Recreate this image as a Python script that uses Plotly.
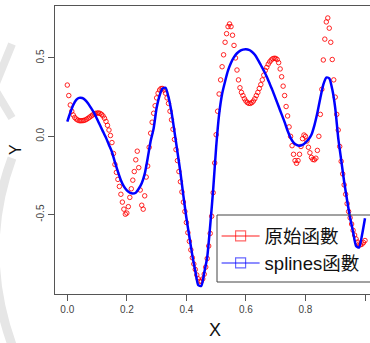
import plotly.graph_objects as go

# Original function (red circles), read at x step 0.005
x_orig = [round(i * 0.005, 3) for i in range(201)]
y_orig = [
    0.327, 0.26, 0.20, 0.16, 0.136, 0.12, 0.11, 0.104, 0.10, 0.099,
    0.100, 0.101, 0.104, 0.109, 0.115, 0.122, 0.129, 0.136, 0.142, 0.146,
    0.148, 0.149, 0.146, 0.140, 0.130, 0.115, 0.095, 0.070, 0.040, 0.005,
    -0.04, -0.11, -0.18, -0.23, -0.275, -0.32, -0.37, -0.42, -0.465, -0.497,
    -0.49, -0.449, -0.39, -0.335, -0.28, -0.225, -0.15, -0.095, -0.20, -0.343,
    -0.44, -0.465, -0.38, -0.26, -0.19, -0.07, 0.02, 0.09, 0.147, 0.195,
    0.245, 0.275, 0.295, 0.305, 0.305, 0.295, 0.275, 0.245, 0.21, 0.16,
    0.105, 0.045, -0.02, -0.085, -0.155, -0.225, -0.29, -0.355, -0.42, -0.48,
    -0.55, -0.615, -0.67, -0.725, -0.775, -0.815, -0.85, -0.885, -0.91, -0.925,
    -0.925, -0.91, -0.88, -0.835, -0.78, -0.70, -0.62, -0.51, -0.36, -0.17,
    0.01, 0.16, 0.27, 0.36, 0.444, 0.52, 0.60, 0.655, 0.70, 0.717,
    0.70, 0.645, 0.58, 0.50, 0.423, 0.36, 0.31, 0.28, 0.26, 0.24,
    0.225, 0.215, 0.21, 0.21, 0.215, 0.225, 0.24, 0.26, 0.28, 0.305,
    0.33, 0.36, 0.39, 0.42, 0.44, 0.46, 0.475, 0.487, 0.495, 0.498,
    0.497, 0.49, 0.47, 0.43, 0.38, 0.32, 0.26, 0.19, 0.13, 0.06,
    0.0, -0.06, -0.115, -0.155, -0.172, -0.155, -0.115, -0.065, -0.015, 0.008,
    0.0, -0.03, -0.07, -0.105, -0.135, -0.148, -0.15, -0.14, -0.09, 0.0,
    0.14, 0.30, 0.487, 0.62, 0.73, 0.755, 0.69, 0.60, 0.49, 0.36,
    0.25, 0.14, 0.04, -0.065, -0.16, -0.24, -0.31, -0.37, -0.43, -0.48,
    -0.52, -0.56, -0.60, -0.63, -0.655, -0.675, -0.688, -0.692, -0.688, -0.678,
    -0.665,
]

# Spline fit (blue line), read at x step 0.01
x_spline = [round(i * 0.01, 2) for i in range(101)]
y_spline = [
    0.093, 0.15, 0.20, 0.232, 0.245, 0.244, 0.232, 0.21, 0.18, 0.15,
    0.11, 0.07, 0.03, -0.01, -0.055, -0.10, -0.165, -0.225, -0.28, -0.32,
    -0.345, -0.36, -0.365, -0.36, -0.335, -0.30, -0.24, -0.14, -0.03, 0.05,
    0.18, 0.26, 0.305, 0.31, 0.25, 0.155, 0.03, -0.10, -0.23, -0.38,
    -0.52, -0.64, -0.76, -0.86, -0.95, -0.955, -0.87, -0.77, -0.57, -0.34,
    -0.07, 0.14, 0.27, 0.35, 0.42, 0.47, 0.505, 0.53, 0.545, 0.553,
    0.555, 0.552, 0.54, 0.52, 0.49, 0.455, 0.42, 0.38, 0.335, 0.29,
    0.24, 0.19, 0.14, 0.09, 0.035, -0.01, -0.04, -0.055, -0.06, -0.055,
    -0.04, -0.02, 0.01, 0.07, 0.15, 0.245, 0.33, 0.375, 0.37, 0.30,
    0.18, -0.01, -0.15, -0.29, -0.41, -0.52, -0.61, -0.70, -0.71, -0.63,
    -0.523,
]

x_ticks = [0.0, 0.2, 0.4, 0.6, 0.8, 1.0]
x_tick_text = ["0.0", "0.2", "0.4", "0.6", "0.8", "1.0"]
y_ticks = [-0.5, 0.0, 0.5]
y_tick_text = ["-0.5", "0.0", "0.5"]
legend_names = ["原始函數", "splines函數"]

fig = go.Figure()
fig.add_trace(go.Scatter(
    x=x_orig, y=y_orig, mode="markers", showlegend=False,
    marker=dict(symbol="circle-open", size=4.5, color="rgba(255,0,0,0.85)",
                line=dict(width=1, color="rgba(255,0,0,0.85)")),
))
fig.add_trace(go.Scatter(
    x=x_spline, y=y_spline, mode="lines", showlegend=False,
    line=dict(color="#0000FF", width=2.5, shape="spline", smoothing=0.6),
))
# legend entries (line with square, as in R legend)
fig.add_trace(go.Scatter(
    x=[None], y=[None], mode="lines+markers", name=legend_names[0],
    line=dict(color="rgba(255,0,0,0.6)", width=1.5),
    marker=dict(symbol="square-open", size=10, color="rgba(255,0,0,0.6)",
                line=dict(width=1.2, color="rgba(255,0,0,0.6)")),
))
fig.add_trace(go.Scatter(
    x=[None], y=[None], mode="lines+markers", name=legend_names[1],
    line=dict(color="rgba(0,0,255,0.6)", width=1.5),
    marker=dict(symbol="square-open", size=10, color="rgba(0,0,255,0.6)",
                line=dict(width=1.2, color="rgba(0,0,255,0.6)")),
))

axis_font = dict(family="Liberation Sans, Arial, sans-serif", size=10, color="#444")

# pixel coords -> paper coords helpers
L, T, B, W = 55, 6, 294, 315
def px(xp):
    return (xp - L) / W
def py(yp):
    return (B - yp) / (B - T)

wm_color = "#e6e6e6"
shapes = [
    # faint background watermark on the left edge
    dict(type="path", xref="paper", yref="paper", layer="below",
         path=f"M {px(12)},{py(44)} L {px(-6)},{py(88)} L {px(12)},{py(118)}",
         line=dict(color=wm_color, width=8)),
    dict(type="path", xref="paper", yref="paper", layer="below",
         path=f"M {px(12)},{py(158)} Q {px(-22)},{py(250)} {px(12)},{py(345)}",
         line=dict(color=wm_color, width=9)),
    # legend box (transparent, running past the right edge as in the original)
    dict(type="rect", xref="paper", yref="paper", layer="above",
         x0=px(217), x1=px(390), y0=py(282), y1=py(215),
         line=dict(color="#444", width=1), fillcolor="rgba(0,0,0,0)"),
]

fig.update_layout(
    width=370, height=343,
    margin=dict(l=55, r=0, t=6, b=49),
    paper_bgcolor="white", plot_bgcolor="white",
    showlegend=True,
    shapes=shapes,
    legend=dict(
        x=0.513, y=0.266, xanchor="left", yanchor="top",
        bgcolor="rgba(0,0,0,0)", borderwidth=0,
        font=dict(family="Liberation Sans, Noto Sans CJK TC, sans-serif", size=18.5, color="#111"),
        tracegroupgap=0, itemwidth=38,
    ),
    xaxis=dict(
        range=[-0.0413, 1.0168], showgrid=False, zeroline=False,
        showline=True, linecolor="#555", linewidth=1, mirror=True,
        ticks="outside", ticklen=6, tickcolor="#555",
        tickvals=x_ticks, ticktext=x_tick_text, tickfont=axis_font,
    ),
    yaxis=dict(
        range=[-1.0064, 0.8315], showgrid=False, zeroline=False,
        showline=True, linecolor="#555", linewidth=1, mirror=False,
        ticks="outside", ticklen=6, tickcolor="#555",
        tickvals=y_ticks, ticktext=y_tick_text, tickfont=axis_font,
        tickangle=-90,
    ),
    annotations=[
        dict(text="X", xref="paper", yref="paper", x=(215 - 55) / 315, y=-(330 - 294) / 288,
             showarrow=False, xanchor="center", yanchor="middle",
             font=dict(family="Liberation Sans, Arial, sans-serif", size=18, color="#111")),
        dict(text="Y", xref="paper", yref="paper", x=-(55 - 15) / 315, y=(294 - 150) / 288,
             showarrow=False, xanchor="center", yanchor="middle", textangle=-90,
             font=dict(family="Liberation Sans, Arial, sans-serif", size=16, color="#111")),
    ],
)

fig.write_html("out.html")
